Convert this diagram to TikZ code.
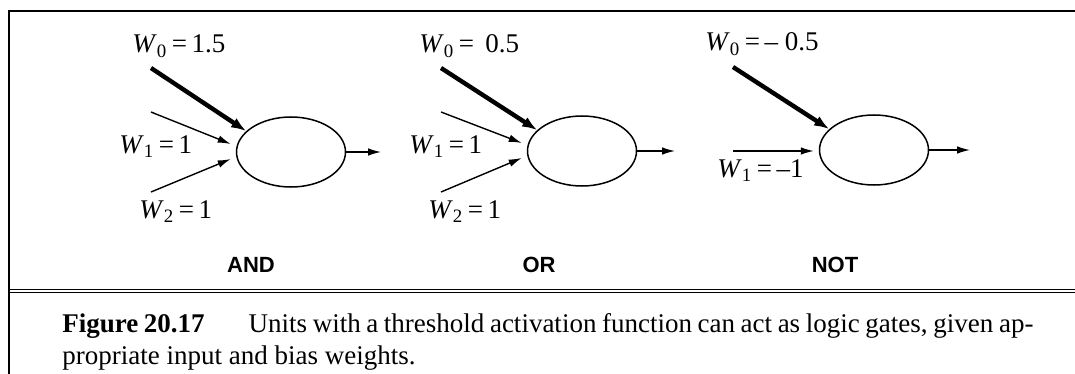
\documentclass[tikz,border=0pt]{standalone}
\usepackage{fontspec}
\setmainfont{Liberation Serif}
\setsansfont{Liberation Sans}
\usetikzlibrary{shapes.geometric,arrows.meta,positioning}

\newcommand{\wval}[2]{\textit{W}\textsubscript{#1}\,=\,#2}

\begin{document}
\begin{tikzpicture}[x=0.5pt,y=-0.5pt,
    unite/.style={draw, ellipse, line width=0.75pt, minimum width=54.5pt, minimum height=35pt, inner sep=0pt},
    poids/.style={-{Latex[length=6.5pt,width=3.8pt]}, line width=0.7pt},
    biais/.style={-{Latex[length=7.5pt,width=5.5pt]}, line width=2.2pt},
    etiq/.style={anchor=base west, inner sep=0pt, font=\fontsize{13.5}{14}\selectfont},
    porte/.style={anchor=base, inner sep=0pt, font=\fontsize{11}{12}\sffamily\bfseries\selectfont},
    legende/.style={anchor=base west, inner sep=0pt, text width=485.5pt, align=justify,
      font=\fontsize{13.5}{16}\selectfont}]
        \useasboundingbox (0,0) rectangle (1075,374);

        % Cadre
        \draw[line width=0.8pt] (1075,11) -- (9,11) -- (9,374);
        \draw[line width=0.5pt] (9,289) -- (1075,289);
        \draw[line width=0.5pt] (9,292.5) -- (1075,292.5);

        % Porte ET
        \node[unite] (et) at (291,152) {};
        \coordinate (et-w0) at (151,68);
        \coordinate (et-w1) at (151,112);
        \coordinate (et-w2) at (151,192);
        \coordinate (et-s) at (381,152);
        \draw[biais] (et-w0) -- (et.155);
        \draw[poids] (et-w1) -- ([shift={(-5,-8)}]et.west);
        \draw[poids] (et-w2) -- ([shift={(-5,7)}]et.west);
        \draw[poids] (et) -- (et-s);
        \node[etiq] (et-l0) at (132,53) {\wval{0}{1.5}};
        \node[etiq] (et-l1) at (119,153) {\wval{1}{1}};
        \node[etiq] (et-l2) at (139,218) {\wval{2}{1}};
        \node[porte] (et-nom) at (251,272) {AND};

        % Porte OU
        \node[unite] (ou) at (582,151) {};
        \coordinate (ou-w0) at (441,68);
        \coordinate (ou-w1) at (441,112);
        \coordinate (ou-w2) at (441,192);
        \coordinate (ou-s) at (675,151);
        \draw[biais] (ou-w0) -- (ou.155);
        \draw[poids] (ou-w1) -- ([shift={(-5,-8)}]ou.west);
        \draw[poids] (ou-w2) -- ([shift={(-5,7)}]ou.west);
        \draw[poids] (ou) -- (ou-s);
        \node[etiq] (ou-l0) at (419,53) {\wval{0}{\ 0.5}};
        \node[etiq] (ou-l1) at (409,153) {\wval{1}{1}};
        \node[etiq] (ou-l2) at (428,218) {\wval{2}{1}};
        \node[porte] (ou-nom) at (539,272) {OR};

        % Porte NON
        \node[unite] (non) at (874,150) {};
        \coordinate (non-w0) at (733,67);
        \coordinate (non-w1) at (733,151);
        \coordinate (non-s) at (970,150);
        \draw[biais] (non-w0) -- (non.155);
        \draw[poids] (non-w1) -- ([shift={(-5,1)}]non.west);
        \draw[poids] (non) -- (non-s);
        \node[etiq] (non-l0) at (705,51) {\wval{0}{–\ 0.5}};
        \node[etiq] (non-l1) at (717,177) {\wval{1}{–1}};
        \node[porte] (non-nom) at (835,272) {NOT};

        % Legende
        \node[legende] (leg) at (62,332) {\textbf{Figure 20.17}\hspace{22pt}Units with a threshold activation function can act as logic gates, given ap-\linebreak propriate input and bias weights.\par};
      \end{tikzpicture}
\end{document}
